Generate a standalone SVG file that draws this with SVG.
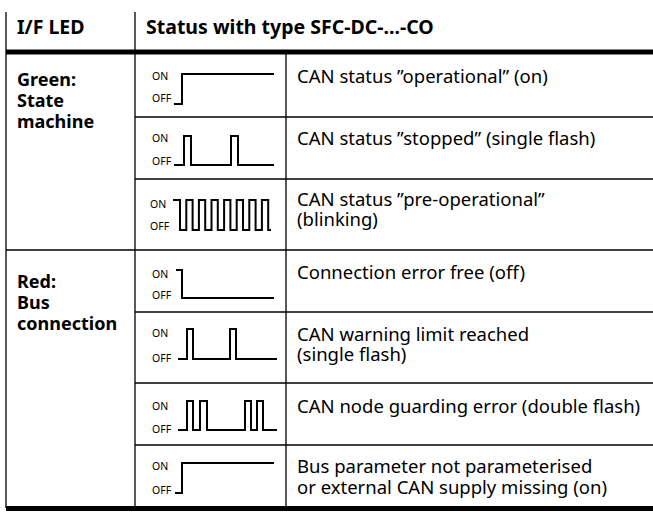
<svg xmlns="http://www.w3.org/2000/svg" width="653" height="512" viewBox="0 0 653 512">
<style>
.t{font-family:"Noto Sans","Open Sans",sans-serif;font-size:18.5px;fill:#000}
.h{font-family:"Noto Sans","Open Sans",sans-serif;font-size:19.5px;font-weight:bold;fill:#000}
.b{font-family:"Noto Sans","Open Sans",sans-serif;font-size:18px;font-weight:bold;fill:#000}
.s{font-family:"Noto Sans","Open Sans",sans-serif;font-size:10.5px;fill:#000}
.ln{stroke:#000;stroke-width:1.3;fill:none}
.thk{stroke:#000;stroke-width:5;fill:none}
.w{stroke:#000;stroke-width:2;fill:none;stroke-linejoin:miter}
</style>
<rect width="653" height="512" fill="#fff"/>
<g id="grid">
<line class="ln" x1="6" y1="12" x2="6" y2="508"/>
<line class="ln" x1="135" y1="12" x2="135" y2="508"/>
<line class="ln" x1="286" y1="52" x2="286" y2="508"/>
<line class="thk" x1="6" y1="52" x2="653" y2="52"/>
<line class="ln" x1="135" y1="117" x2="653" y2="117"/>
<line class="ln" x1="135" y1="179" x2="653" y2="179"/>
<line class="ln" x1="6" y1="250" x2="653" y2="250"/>
<line class="ln" x1="135" y1="312" x2="653" y2="312"/>
<line class="ln" x1="135" y1="383" x2="653" y2="383"/>
<line class="ln" x1="135" y1="445" x2="653" y2="445"/>
<line class="thk" x1="6" y1="508.5" x2="653" y2="508.5"/>
</g>
<g id="header">
<text class="h" x="17" y="34">I/F LED</text>
<text class="h" x="146" y="34">Status with type SFC-DC-...-CO</text>
</g>
<g id="green-label">
<text class="b" x="17" y="86">Green:</text>
<text class="b" x="17" y="107">State</text>
<text class="b" x="17" y="128">machine</text>
</g>
<g id="red-label">
<text class="b" x="17" y="288">Red:</text>
<text class="b" x="17" y="309">Bus</text>
<text class="b" x="17" y="330">connection</text>
</g>
<g id="row1">
<text class="s" x="152" y="80">ON</text>
<text class="s" x="152" y="102">OFF</text>
<polyline class="w" points="174,104 182,104 182,74 274,74"/>
<text class="t" x="297" y="83">CAN status ”operational” (on)</text>
</g>
<g id="row2">
<text class="s" x="152" y="142">ON</text>
<text class="s" x="152" y="165">OFF</text>
<polyline class="w" points="174,165 184,165 184,136 191,136 191,165 231,165 231,136 238,136 238,165 274,165"/>
<text class="t" x="297" y="145">CAN status ”stopped” (single flash)</text>
</g>
<g id="row3">
<text class="s" x="150" y="208">ON</text>
<text class="s" x="150" y="230">OFF</text>
<polyline class="w" points="173,200 180,200 180,230 186.3,230 186.3,200 192.6,200 192.6,230 198.9,230 198.9,200 205.2,200 205.2,230 211.5,230 211.5,200 217.8,200 217.8,230 224.1,230 224.1,200 230.4,200 230.4,230 236.7,230 236.7,200 243,200 243,230 249.3,230 249.3,200 255.6,200 255.6,230 261.9,230 261.9,200 268.2,200 268.2,230 271,230"/>
<text class="t" x="297" y="206">CAN status ”pre-operational”</text>
<text class="t" x="297" y="226">(blinking)</text>
</g>
<g id="row4">
<text class="s" x="152" y="278">ON</text>
<text class="s" x="152" y="299">OFF</text>
<polyline class="w" points="176,270 182,270 182,298 274,298"/>
<text class="t" x="297" y="279">Connection error free (off)</text>
</g>
<g id="row5">
<text class="s" x="152" y="337">ON</text>
<text class="s" x="152" y="362">OFF</text>
<polyline class="w" points="178,359 187,359 187,329 193,329 193,359 230,359 230,329 236,329 236,359 277,359"/>
<text class="t" x="297" y="341">CAN warning limit reached</text>
<text class="t" x="297" y="361">(single flash)</text>
</g>
<g id="row6">
<text class="s" x="152" y="410">ON</text>
<text class="s" x="152" y="433">OFF</text>
<polyline class="w" points="178,430 187,430 187,401 193,401 193,430 200,430 200,401 207,401 207,430 245,430 245,401 251,401 251,430 257,430 257,401 263,401 263,430 277,430"/>
<text class="t" x="297" y="413">CAN node guarding error (double flash)</text>
</g>
<g id="row7">
<text class="s" x="152" y="470">ON</text>
<text class="s" x="152" y="494">OFF</text>
<polyline class="w" points="175,493 182,493 182,463 274,463"/>
<text class="t" x="297" y="473">Bus parameter not parameterised</text>
<text class="t" x="297" y="494">or external CAN supply missing (on)</text>
</g>
</svg>
